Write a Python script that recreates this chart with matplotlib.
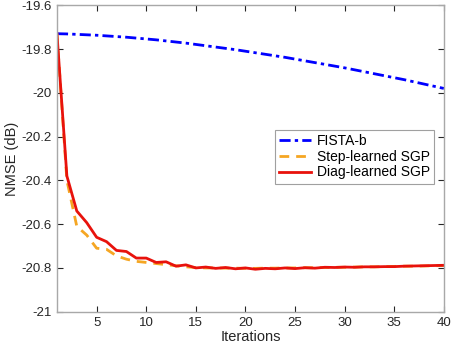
import matplotlib
matplotlib.use("Agg")
import matplotlib.pyplot as plt
from matplotlib.ticker import FormatStrFormatter
import numpy as np

plt.rcParams['font.family'] = ['Liberation Sans', 'DejaVu Sans']

iters = np.arange(1, 41)

fista_b = [-19.730, -19.731, -19.733, -19.735, -19.737, -19.740, -19.743, -19.746,
           -19.750, -19.754, -19.758, -19.763, -19.768, -19.773, -19.779, -19.785,
           -19.791, -19.797, -19.803, -19.810, -19.817, -19.824, -19.831, -19.838,
           -19.846, -19.854, -19.862, -19.870, -19.878, -19.886, -19.895, -19.904,
           -19.913, -19.922, -19.931, -19.940, -19.950, -19.960, -19.970, -19.980]

step_sgp = [-19.730, -20.400, -20.610, -20.650, -20.710, -20.715, -20.745, -20.760,
            -20.770, -20.775, -20.780, -20.785, -20.790, -20.795, -20.798, -20.800,
            -20.800, -20.801, -20.801, -20.802, -20.802, -20.801, -20.801, -20.800,
            -20.800, -20.799, -20.799, -20.798, -20.797, -20.797, -20.796, -20.795,
            -20.795, -20.794, -20.793, -20.792, -20.792, -20.791, -20.790, -20.789]

diag_sgp = [-19.730, -20.380, -20.540, -20.593, -20.660, -20.680, -20.720, -20.725,
            -20.755, -20.755, -20.775, -20.772, -20.792, -20.786, -20.800, -20.796,
            -20.802, -20.798, -20.804, -20.800, -20.806, -20.802, -20.804, -20.800,
            -20.803, -20.799, -20.801, -20.797, -20.798, -20.796, -20.797, -20.795,
            -20.795, -20.794, -20.794, -20.792, -20.791, -20.790, -20.789, -20.788]

fig = plt.figure(figsize=(4.52, 3.5), dpi=100)
ax = fig.add_axes([0.126, 0.1094, 0.856, 0.8756])

ax.plot(iters, fista_b, color='#0000ff', linestyle='-.', linewidth=2.0,
        dashes=(4, 1.5, 1.2, 1.5), label='FISTA-b')
ax.plot(iters, step_sgp, color='#f5a623', linestyle='--', linewidth=2.0,
        dashes=(3.5, 2.5), label='Step-learned SGP')
ax.plot(iters, diag_sgp, color='#e8120c', linestyle='-', linewidth=2.0,
        label='Diag-learned SGP')

ax.set_xlim(1, 40)
ax.set_ylim(-21, -19.6)
ax.set_xticks([5, 10, 15, 20, 25, 30, 35, 40])
ax.set_yticks(np.arange(-21, -19.59, 0.2))
ax.yaxis.set_major_formatter(FormatStrFormatter('%g'))

ax.tick_params(direction='in', length=4, width=0.8, labelsize=9.5,
               colors='#262626', top=True, right=True)
for s in ax.spines.values():
    s.set_color('#a8a8a8')
    s.set_linewidth(1.0)

ax.set_xlabel('Iterations', fontsize=10.5, labelpad=1, color='#262626')
ax.set_ylabel('NMSE (dB)', fontsize=10.5, labelpad=2, color='#262626')

leg = ax.legend(loc='upper right', bbox_to_anchor=(0.974, 0.593),
                borderaxespad=0, fontsize=10, handlelength=2.3,
                handletextpad=0.4, labelspacing=0.12, borderpad=0.3,
                fancybox=False, framealpha=1)
leg.get_frame().set_edgecolor('#a0a0a0')
leg.get_frame().set_linewidth(0.8)

fig.savefig('out.png', dpi=100)
